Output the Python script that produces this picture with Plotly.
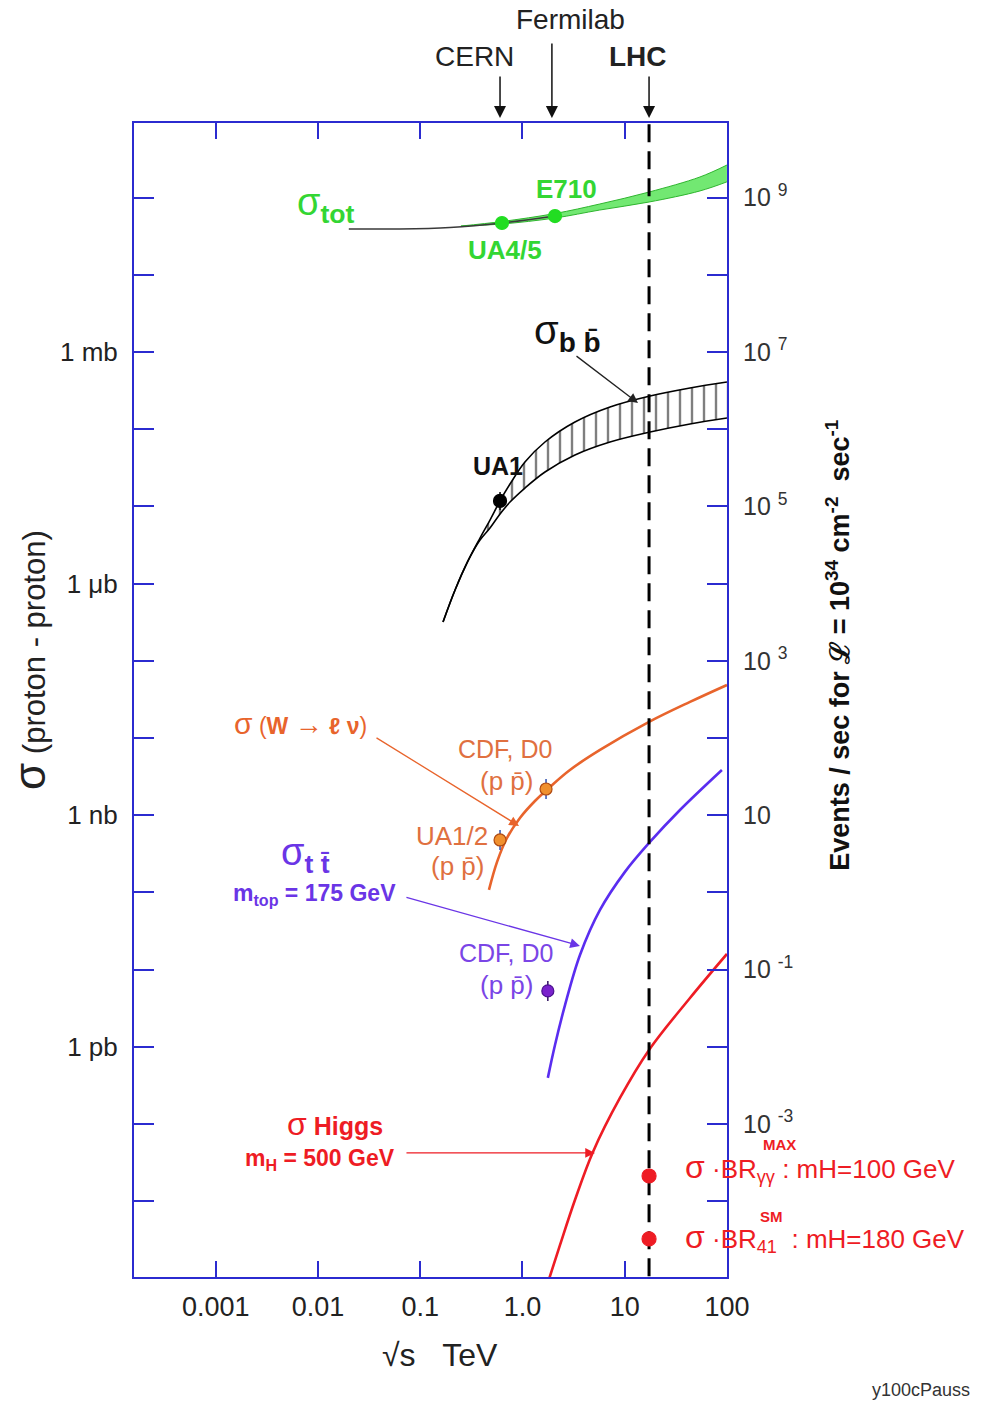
import numpy as np
import plotly.graph_objects as go

# ---------------- data: sqrt(s) in TeV, cross sections in mb ----------------
# total cross section
tot_line_E = [0.02, 0.063, 0.195, 0.63, 2.08]
tot_line_sig = [39.2, 39.2, 41.0, 46.9, 57.7]
tot_band_E = [0.25, 0.63, 2.08, 5.7, 17.3, 54.5, 100]
tot_band_hi = [42.8, 49.0, 62.2, 82.6, 118, 185, 264]
tot_band_lo = [42.8, 45.5, 54.4, 69.0, 87.6, 122, 160]
tot_meas_E = [0.63, 2.08]            # UA4/5, E710
tot_meas_sig = [46.9, 57.7]

# b bbar production band
bb_E = [0.167, 0.219, 0.293, 0.384, 0.481, 0.603, 0.755, 1.057, 1.66, 3.26, 7.18, 17.7, 43.5, 100]
bb_hi = [3.19e-4, 8.28e-4, 1.97e-3, 3.90e-3, 6.67e-3, 0.0118, 0.0195, 0.0376, 0.0683, 0.124, 0.194, 0.269, 0.342, 0.409]
bb_lo = [3.19e-4, 8.28e-4, 1.97e-3, 3.67e-3, 5.26e-3, 7.98e-3, 0.0114, 0.0173, 0.0279, 0.0464, 0.0683, 0.092, 0.117, 0.140]
bb_meas_E = [0.603]                  # UA1
bb_meas_sig = [0.0118]
bb_err_up = [0.0036]
bb_err_dn = [0.0028]

# W -> l nu
W_E = [0.47, 0.564, 0.705, 0.944, 1.324, 1.86, 2.91, 5.73, 17.3, 43.5, 100]
W_sig = [1.08e-7, 2.49e-7, 5.08e-7, 9.23e-7, 1.53e-6, 2.33e-6, 3.86e-6, 7.02e-6, 1.62e-5, 2.94e-5, 4.87e-5]
W_meas_E = [0.603, 1.70]             # UA1/2, CDF+D0
W_meas_sig = [4.79e-7, 2.19e-6]
W_err_up = [1.66e-7, 7.6e-7]
W_err_dn = [1.24e-7, 5.65e-7]

# t tbar, m_top = 175 GeV
tt_E = [1.77, 2.08, 2.61, 3.65, 5.73, 10.05, 17.3, 34.7, 89.3]
tt_sig = [3.97e-10, 1.06e-9, 3.50e-9, 1.55e-8, 5.94e-8, 1.85e-7, 4.38e-7, 1.17e-6, 3.86e-6]
tt_meas_E = [1.77]                   # CDF+D0
tt_meas_sig = [5.31e-9]
tt_err_up = [1.84e-9]
tt_err_dn = [1.37e-9]

# Higgs, m_H = 500 GeV
H_E = [1.77, 2.33, 3.26, 4.89, 8.98, 17.3, 43.5, 100]
H_sig = [8.8e-13, 2.73e-12, 1.04e-11, 4.36e-11, 2.18e-10, 9.14e-10, 4.3e-9, 1.60e-8]

# sigma x BR at the LHC
lhc_E = 17.3
lhc_br_sig = [2.13e-11, 3.26e-12]

# axis ticks
x_ticks = [0.001, 0.01, 0.1, 1, 10, 100]
x_tick_text = ['0.001', '0.01', '0.1', '1.0', '10', '100']
sig_ticks = [1, 1e-3, 1e-6, 1e-9]
sig_tick_text = ['1 mb', '1 \u03bcb', '1 nb', '1 pb']
sig_minor = [1e2, 1e1, 1e-1, 1e-2, 1e-4, 1e-5, 1e-7, 1e-8, 1e-10, 1e-11]
rate_ticks = [1e9, 1e7, 1e5, 1e3, 1e1, 1e-1, 1e-3]
rate_tick_text = ['10 <sup>9</sup>', '10 <sup>7</sup>', '10 <sup>5</sup>', '10 <sup>3</sup>',
                  '10', '10 <sup>-1</sup>', '10 <sup>-3</sup>']
rate_minor = [1e8, 1e6, 1e4, 1e2, 1, 1e-2, 1e-4]

# ---------------- styling ----------------
AXIS = '#2b2bd0'
GREEN = '#33d633'
GREEN_FILL = '#72e872'
GREEN_EDGE = '#2fb52f'
ORANGE = '#e8642c'
ORANGE_PT = '#f0902e'
VIOLET = '#5a2df0'
VIOLET_TXT = '#6a35e6'
PURPLE_PT = '#7a22cc'
RED = '#ee1c24'
FONT = 'Liberation Sans, Arial, sans-serif'

fig = go.Figure()

def line(x, y, color, width=2.2):
    return go.Scatter(x=x, y=y, mode='lines', line=dict(color=color, width=width, shape='spline'),
                      hoverinfo='skip', showlegend=False)

def points(x, y, color, size=13, edge=None, up=None, dn=None, ecolor=None):
    kw = {}
    if up is not None:
        kw['error_y'] = dict(type='data', symmetric=False, array=up, arrayminus=dn,
                             color=ecolor or color, thickness=1.5, width=0)
    return go.Scatter(x=x, y=y, mode='markers',
                      marker=dict(color=color, size=size, line=dict(color=edge or color, width=1.2)),
                      hoverinfo='skip', showlegend=False, **kw)

# total cross section: band + low-energy line
fig.add_trace(line(tot_band_E, tot_band_lo, GREEN_EDGE, 1))
tr = line(tot_band_E, tot_band_hi, GREEN_EDGE, 1)
tr.update(fill='tonexty', fillcolor=GREEN_FILL)
fig.add_trace(tr)
fig.add_trace(line(tot_line_E, tot_line_sig, '#3a3a3a', 1.5))
fig.add_trace(points(tot_meas_E, tot_meas_sig, '#22dd22', 13))

# b bbar hatched band
fig.add_trace(line(bb_E, bb_lo, 'black', 1.6))
tr = line(bb_E, bb_hi, 'black', 1.6)
tr.update(fill='tonexty', fillcolor='rgba(255,255,255,0)',
          fillpattern=dict(shape='|', size=12, solidity=0.2, fgcolor='black',
                           bgcolor='rgba(255,255,255,0)'))
fig.add_trace(tr)
fig.add_trace(points(bb_meas_E, bb_meas_sig, 'black', 13, up=bb_err_up, dn=bb_err_dn))

# W, top, Higgs
fig.add_trace(line(W_E, W_sig, ORANGE, 2.6))
fig.add_trace(points(W_meas_E, W_meas_sig, ORANGE_PT, 12, edge='#b04a10',
                     up=W_err_up, dn=W_err_dn, ecolor='#3050b0'))
fig.add_trace(line(tt_E, tt_sig, VIOLET, 2.6))
fig.add_trace(points(tt_meas_E, tt_meas_sig, PURPLE_PT, 12, edge='#4a1090',
                     up=tt_err_up, dn=tt_err_dn, ecolor='#301060'))
fig.add_trace(line(H_E, H_sig, RED, 2.6))

# LHC energy
fig.add_trace(go.Scatter(x=[lhc_E, lhc_E], y=[1e4, 1e-13], mode='lines',
                         line=dict(color='black', width=3, dash='18px,9px'),
                         hoverinfo='skip', showlegend=False))
fig.add_trace(points([lhc_E, lhc_E], lhc_br_sig, RED, 14))

# right-hand rate axis (events/s at L = 1e34)
fig.add_trace(go.Scatter(x=[None], y=[None], yaxis='y2', mode='markers',
                         hoverinfo='skip', showlegend=False))

L = np.log10

def label(text, lx, ly, size, color, xanchor='center', xref='x', yref='y'):
    return dict(text=text, x=lx, y=ly, xref=xref, yref=yref, showarrow=False,
                font=dict(size=size, color=color, family=FONT), xanchor=xanchor, yanchor='middle')

def arrow(lx, ly, ax, ay, color, width=1.5, yref='y', size=1.5):
    return dict(text='', x=lx, y=ly, xref='x', yref=yref, ax=ax, ay=ay, showarrow=True,
                arrowhead=2, arrowsize=size, arrowwidth=width, arrowcolor=color)

ann = []
# accelerators
ann += [label('Fermilab', 0.465, 1.0893, 28, '#222', yref='paper'),
        label('CERN', -0.465, 1.0572, 28, '#222', yref='paper'),
        label('<b>LHC</b>', 1.130, 1.0572, 28, '#222', yref='paper'),
        arrow(L(0.603), 1.0043, 0, -43, '#111', 1.5, 'paper', 1.6),
        arrow(L(1.94), 1.0043, 0, -76, '#111', 1.5, 'paper', 1.6),
        arrow(L(lhc_E), 1.0043, 0, -43, '#111', 1.5, 'paper', 1.6)]
# total
ann += [label('\u03c3<b><sub>tot</sub></b>', -1.922, 1.904, 38, GREEN),
        label('<b>E710</b>', 0.435, 2.111, 26, GREEN),
        label('<b>UA4/5</b>', -0.171, 1.321, 26, GREEN)]
# b bbar
ann += [label('\u03c3<b><sub>b b\u0304</sub></b>', 0.445, 0.246, 40, '#111'),
        arrow(1.130, -0.660, -63, -48, '#222', 1.3),
        label('<b>UA1</b>', -0.240, -1.476, 25, '#111')]
# W
ann += [label("<span style='font-size:30px'>\u03c3</span> (<b>W <span style='font-size:28px'>\u2192</span> \u2113 \u03bd</b>)",
              -2.176, -4.817, 23, ORANGE),
        arrow(-0.034, -6.138, -144, -89, ORANGE, 1.3),
        label('CDF, D0', -0.171, -5.141, 25, '#e07040'),
        label('(p p\u0304)', -0.152, -5.556, 26, '#e07040'),
        label('UA1/2', -0.690, -6.268, 26, '#e07040'),
        label('(p p\u0304)', -0.631, -6.656, 26, '#e07040')]
# top
ann += [label('\u03c3<b><sub>t t\u0304</sub></b>', -2.127, -6.514, 38, VIOLET_TXT),
        label('<b>m<sub>top</sub> = 175 GeV</b>', -2.039, -7.032, 23, VIOLET_TXT),
        arrow(0.562, -7.692, -175, -49, VIOLET_TXT, 1.3),
        label('CDF, D0', -0.162, -7.783, 25, '#7a45e6'),
        label('(p p\u0304)', -0.152, -8.197, 26, '#7a45e6')]
# Higgs
ann += [label("<span style='font-size:32px'>\u03c3</span> <b>Higgs</b>", -1.834, -9.997, 25, RED),
        label('<b>m<sub>H</sub> = 500 GeV</b>', -1.981, -10.464, 23, RED),
        arrow(0.709, -10.373, -190, 0, RED, 1.3)]
# sigma x BR labels
ann += [label("<span style='font-size:32px'>\u03c3</span> \u00b7BR<sub>\u03b3\u03b3</sub> : mH=100 GeV", 1.570, -10.567, 26, RED, 'left'),
        label('<b>MAX</b>', 1.088, 0.1144, 15, RED, xref='paper', yref='paper'),
        label("<span style='font-size:32px'>\u03c3</span> \u00b7BR<sub>41</sub>  : mH=180 GeV", 1.570, -11.474, 26, RED, 'left'),
        label('<b>SM</b>', 1.0742, 0.0528, 15, RED, xref='paper', yref='paper')]
# axis titles and tag
ann += [dict(text="<span style='font-size:44px'>\u03c3</span> (proton - proton)", x=-0.1754, y=0.5347,
             xref='paper', yref='paper', showarrow=False, textangle=-90,
             font=dict(size=31, color='#222', family=FONT), xanchor='center', yanchor='middle'),
        dict(text='<b>Events / sec for \u2112 = 10<sup>34</sup> cm<sup>-2</sup>  sec<sup>-1</sup></b>',
             x=1.187, y=0.5477, xref='paper', yref='paper', showarrow=False, textangle=-90,
             font=dict(size=27, color='#111', family=FONT), xanchor='center', yanchor='middle'),
        dict(text='\u221as\u00a0\u00a0\u00a0TeV', x=0.516, y=-0.0676, xref='paper', yref='paper',
             showarrow=False, font=dict(size=32, color='#222', family=FONT),
             xanchor='center', yanchor='middle'),
        dict(text='y100cPauss', x=1.327, y=-0.0979, xref='paper', yref='paper', showarrow=False,
             font=dict(size=18, color='#333', family=FONT), xanchor='center', yanchor='middle')]

axis_common = dict(showgrid=False, zeroline=False, showline=True, linecolor=AXIS, linewidth=2,
                   ticks='inside', tickcolor=AXIS, tickwidth=2)

fig.update_layout(
    width=982, height=1404,
    margin=dict(l=134, r=255, t=123, b=127),
    paper_bgcolor='white', plot_bgcolor='white',
    showlegend=False,
    font=dict(family=FONT, color='#222'),
    xaxis=dict(type='log', range=[-3.8, 2.0005], tickvals=x_ticks, ticktext=x_tick_text,
               ticklen=16, mirror='ticks', tickfont=dict(size=27, color='#222'),
               ticklabelstandoff=5, **axis_common),
    yaxis=dict(type='log', range=[-11.98, 2.966], tickvals=sig_ticks, ticktext=sig_tick_text,
               ticklen=20, tickfont=dict(size=26, color='#222'), ticklabelstandoff=9,
               minor=dict(tickvals=sig_minor, ticks='inside', ticklen=20, tickcolor=AXIS,
                          tickwidth=2, showgrid=False),
               **axis_common),
    yaxis2=dict(type='log', overlaying='y', side='right', range=[-4.98, 9.966],
                tickvals=rate_ticks, ticktext=rate_tick_text, ticklen=20,
                tickfont=dict(size=25, color='#333'), ticklabelstandoff=9,
                minor=dict(tickvals=rate_minor, ticks='inside', ticklen=20, tickcolor=AXIS,
                           tickwidth=2, showgrid=False),
                **axis_common),
    annotations=ann,
)

fig.write_html('out.html')
